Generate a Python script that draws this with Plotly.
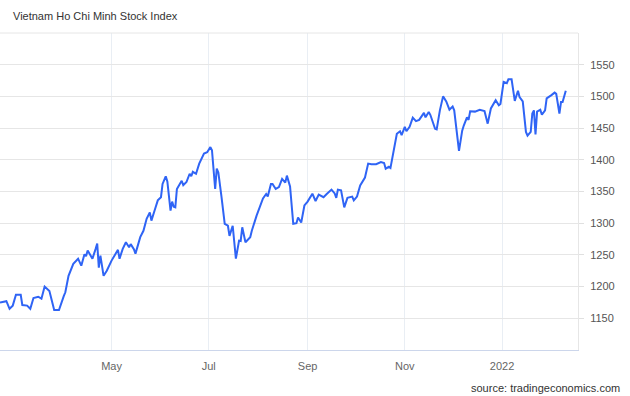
import plotly.graph_objects as go

dates = [
    "2021-02-20", "2021-02-24", "2021-02-26", "2021-02-28",
    "2021-03-02", "2021-03-05", "2021-03-06", "2021-03-09", "2021-03-11", "2021-03-13",
    "2021-03-16", "2021-03-18", "2021-03-20", "2021-03-23", "2021-03-26", "2021-03-29",
    "2021-04-01", "2021-04-02", "2021-04-04", "2021-04-07", "2021-04-10", "2021-04-12",
    "2021-04-14", "2021-04-15", "2021-04-16", "2021-04-19", "2021-04-21", "2021-04-22",
    "2021-04-23", "2021-04-24", "2021-04-26", "2021-04-28",
    "2021-05-01", "2021-05-03", "2021-05-05", "2021-05-06", "2021-05-08", "2021-05-10",
    "2021-05-12", "2021-05-13", "2021-05-15", "2021-05-16", "2021-05-19", "2021-05-21",
    "2021-05-23", "2021-05-25", "2021-05-26", "2021-05-28", "2021-05-30",
    "2021-06-01", "2021-06-02", "2021-06-04", "2021-06-05", "2021-06-07", "2021-06-08",
    "2021-06-09", "2021-06-10", "2021-06-11", "2021-06-14", "2021-06-15", "2021-06-17",
    "2021-06-19", "2021-06-20", "2021-06-21", "2021-06-23", "2021-06-25", "2021-06-28",
    "2021-06-30",
    "2021-07-02", "2021-07-03", "2021-07-05", "2021-07-06", "2021-07-07", "2021-07-09",
    "2021-07-11", "2021-07-13", "2021-07-14", "2021-07-16", "2021-07-18", "2021-07-20",
    "2021-07-21", "2021-07-22", "2021-07-24", "2021-07-27", "2021-07-28", "2021-07-31",
    "2021-08-03", "2021-08-04", "2021-08-06", "2021-08-07", "2021-08-09", "2021-08-10",
    "2021-08-12", "2021-08-14", "2021-08-16", "2021-08-18", "2021-08-19", "2021-08-21",
    "2021-08-23", "2021-08-25", "2021-08-26", "2021-08-28", "2021-08-30",
    "2021-09-01", "2021-09-04", "2021-09-06", "2021-09-08", "2021-09-11", "2021-09-13",
    "2021-09-16", "2021-09-18", "2021-09-19", "2021-09-20", "2021-09-22", "2021-09-24",
    "2021-09-26", "2021-09-29", "2021-09-30",
    "2021-10-02", "2021-10-04", "2021-10-07", "2021-10-09", "2021-10-11", "2021-10-14",
    "2021-10-17", "2021-10-19", "2021-10-20", "2021-10-22", "2021-10-23", "2021-10-25",
    "2021-10-27", "2021-10-29", "2021-10-30",
    "2021-11-01", "2021-11-02", "2021-11-04", "2021-11-06", "2021-11-08", "2021-11-10",
    "2021-11-13", "2021-11-14", "2021-11-16", "2021-11-17", "2021-11-20", "2021-11-21",
    "2021-11-23", "2021-11-25", "2021-11-27", "2021-11-29",
    "2021-12-01", "2021-12-02", "2021-12-05", "2021-12-07", "2021-12-08", "2021-12-10",
    "2021-12-11", "2021-12-12", "2021-12-15", "2021-12-18", "2021-12-21", "2021-12-23",
    "2021-12-25", "2021-12-28", "2021-12-30", "2021-12-31",
    "2022-01-02", "2022-01-04", "2022-01-05", "2022-01-07", "2022-01-08", "2022-01-09",
    "2022-01-11", "2022-01-12", "2022-01-14", "2022-01-16", "2022-01-17", "2022-01-19",
    "2022-01-20", "2022-01-21", "2022-01-22", "2022-01-23", "2022-01-25", "2022-01-26",
    "2022-01-28", "2022-01-29",
    "2022-02-01", "2022-02-03", "2022-02-04", "2022-02-06", "2022-02-07", "2022-02-08",
    "2022-02-10",
]

index_values = [
    1175, 1177, 1165, 1170,
    1187, 1187, 1171, 1170, 1165, 1182,
    1184, 1181, 1200, 1193, 1163, 1163,
    1185, 1191, 1217, 1236, 1244, 1233,
    1251, 1248, 1257, 1244, 1259.5, 1268,
    1230, 1249, 1217, 1225,
    1241, 1249, 1258, 1244, 1259.5, 1270,
    1262, 1267, 1259, 1252, 1278, 1288,
    1307, 1317, 1304, 1320, 1336,
    1341, 1362, 1374, 1366, 1320, 1334,
    1326, 1325, 1354, 1367, 1360, 1365,
    1378, 1374, 1381, 1378, 1394, 1410,
    1412,
    1420, 1415, 1354, 1386, 1380, 1341,
    1299, 1296, 1280, 1296, 1244, 1272.5,
    1272, 1293.5, 1270, 1278, 1288, 1312,
    1333, 1339, 1346, 1342, 1362, 1362,
    1354, 1357, 1370, 1364, 1375, 1358,
    1299, 1300, 1309, 1301, 1328,
    1334, 1346.5, 1335, 1345, 1341, 1346,
    1353, 1347, 1340, 1353, 1352, 1325,
    1340, 1342, 1336,
    1342, 1359.5, 1372, 1394, 1393, 1393,
    1396.5, 1395, 1386, 1389, 1387, 1415,
    1441, 1445, 1439,
    1452, 1445, 1452, 1466.5, 1461, 1463,
    1474, 1467, 1475.5, 1471, 1449, 1448,
    1478, 1500, 1492, 1479,
    1484, 1478, 1414, 1446, 1454, 1467,
    1463, 1476.6, 1476, 1479, 1477, 1457,
    1481, 1494, 1486, 1488,
    1523, 1521, 1527, 1527, 1510, 1493,
    1509, 1499, 1492, 1444, 1438, 1444,
    1473, 1478, 1440, 1476, 1479, 1471,
    1478, 1497,
    1502, 1506, 1504, 1473, 1491, 1491,
    1509,
]

x_tick_dates = ["2021-05-01", "2021-07-01", "2021-09-01", "2021-11-01", "2022-01-01"]
x_tick_labels = ["May", "Jul", "Sep", "Nov", "2022"]
y_tick_values = [1150, 1200, 1250, 1300, 1350, 1400, 1450, 1500, 1550]

title_text = "Vietnam Ho Chi Minh Stock Index"
source_text = "source: tradingeconomics.com"

FONT = "Liberation Sans, Arial, sans-serif"

fig = go.Figure()
fig.add_trace(go.Scatter(
    x=dates, y=index_values, mode="lines",
    line=dict(color="#2f64f5", width=2),
    hoverinfo="x+y", showlegend=False,
))

fig.update_layout(
    width=630, height=396,
    margin=dict(l=0, r=52, t=33, b=46),
    paper_bgcolor="white", plot_bgcolor="white",
    font=dict(family=FONT, size=11, color="#666666"),
    xaxis=dict(
        type="date",
        range=["2021-02-20", "2022-02-17 16:00"],
        tickvals=x_tick_dates, ticktext=x_tick_labels,
        showgrid=True, gridcolor="#e9eef4", gridwidth=1,
        showline=True, linecolor="#ccd6eb", linewidth=1,
        ticks="", ticklabelstandoff=6,
        tickfont=dict(size=11, color="#666666"),
        zeroline=False, fixedrange=True,
    ),
    yaxis=dict(
        side="right",
        range=[1100, 1600],
        tickvals=y_tick_values,
        showgrid=True, gridcolor="#e6e6e6", gridwidth=1,
        showline=True, linecolor="#e6e6e6", linewidth=1,
        ticks="outside", ticklen=5, tickcolor="#e0e0e0",
        ticklabelstandoff=4,
        tickfont=dict(size=11, color="#555555"),
        zeroline=False, fixedrange=True,
    ),
    annotations=[
        dict(text=title_text, xref="paper", yref="paper", x=0, y=1,
             xanchor="left", yanchor="bottom", xshift=11, yshift=9,
             showarrow=False, font=dict(family=FONT, size=11, color="#333333")),
        dict(text=source_text, xref="paper", yref="paper", x=1, y=0,
             xanchor="right", yanchor="middle", xshift=44, yshift=-38,
             showarrow=False, font=dict(family=FONT, size=11, color="#333333")),
    ],
    shapes=[
        dict(type="line", xref="paper", yref="paper", x0=0, x1=1, y0=1, y1=1,
             line=dict(color="#e6e6e6", width=1)),
    ],
)

fig.write_html("out.html")
